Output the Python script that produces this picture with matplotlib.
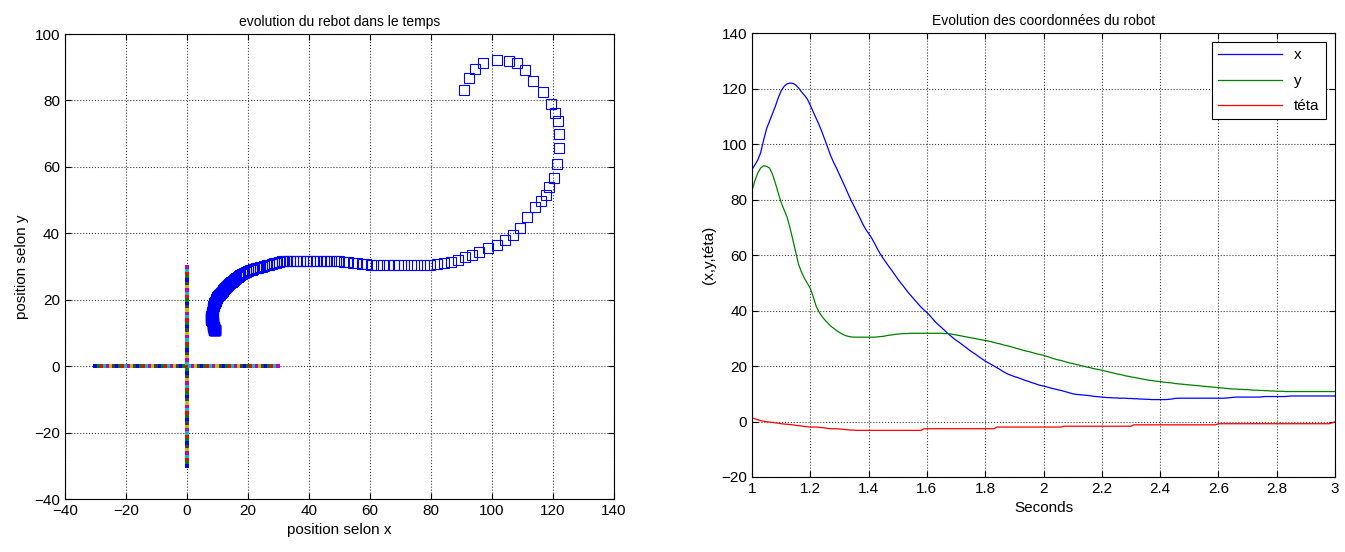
import matplotlib
matplotlib.use('Agg')
import matplotlib.pyplot as plt
import numpy as np

plt.rcParams['font.family'] = ['Liberation Sans', 'DejaVu Sans']
plt.rcParams['font.size'] = 10

# temps (s), pas de 0.01
t = np.linspace(1, 3, 201)

x_rob = [90.8, 92.5, 94.3, 97.0, 101.5, 105.5, 108.2, 110.8, 113.6, 116.6,
         119.2, 120.8, 121.7, 122.0, 121.9, 121.3, 120.2, 118.8, 117.6, 116.2,
         114.0, 111.6, 109.3, 107.0, 104.4, 101.6, 98.7, 95.8, 93.4, 91.3,
         89.0, 86.7, 84.4, 82.0, 79.7, 77.6, 75.5, 73.4, 71.2, 69.3,
         67.8, 66.2, 64.3, 62.3, 60.4, 58.8, 57.3, 55.8, 54.4, 52.9,
         51.4, 50.0, 48.7, 47.3, 46.0, 44.8, 43.6, 42.4, 41.2, 40.2,
         39.3, 38.2, 37.0, 35.8, 34.8, 33.9, 32.9, 31.9, 31.0, 30.1,
         29.3, 28.6, 27.8, 27.0, 26.2, 25.4, 24.7, 24.0, 23.2, 22.5,
         21.8, 21.2, 20.6, 20.0, 19.4, 18.8, 18.1, 17.5, 17.0, 16.6,
         16.2, 15.9, 15.5, 15.1, 14.7, 14.4, 14.0, 13.7, 13.3, 13.0,
         12.8, 12.5, 12.2, 11.9, 11.7, 11.4, 11.2, 10.9, 10.6, 10.3,
         10.0, 9.8, 9.7, 9.6, 9.5, 9.4, 9.3, 9.1, 9.0, 8.9,
         8.8, 8.7, 8.6, 8.6, 8.5, 8.5, 8.4, 8.4, 8.4, 8.3,
         8.3, 8.2, 8.2, 8.1, 8.1, 8.0, 8.0, 7.9, 7.9, 7.9,
         7.9, 7.9, 7.9, 8.0, 8.1, 8.3, 8.4, 8.4, 8.4, 8.4,
         8.4, 8.4, 8.4, 8.4, 8.4, 8.4, 8.4, 8.4, 8.4, 8.4,
         8.4, 8.4, 8.4, 8.5, 8.6, 8.7, 8.8, 8.8, 8.8, 8.8,
         8.8, 8.8, 8.8, 8.8, 8.8, 8.9, 9.0, 9.0, 9.0, 9.0,
         9.0, 9.0, 9.0, 9.0, 9.1, 9.2, 9.2, 9.2, 9.2, 9.2,
         9.2, 9.2, 9.2, 9.2, 9.2, 9.2, 9.2, 9.2, 9.2, 9.2,
         9.2]

y_rob = [83.2, 86.8, 89.6, 91.4, 92.2, 92.0, 91.4, 89.2, 86.0, 82.4,
         79.0, 76.3, 73.8, 70.0, 65.6, 61.0, 56.6, 53.8, 51.6, 49.8,
         48.0, 45.0, 41.6, 39.5, 37.9, 36.6, 35.5, 34.4, 33.6, 32.8,
         32.1, 31.5, 31.0, 30.7, 30.5, 30.4, 30.4, 30.4, 30.4, 30.4,
         30.4, 30.4, 30.4, 30.5, 30.6, 30.7, 30.9, 31.1, 31.2, 31.4,
         31.5, 31.6, 31.7, 31.7, 31.8, 31.8, 31.8, 31.8, 31.8, 31.8,
         31.8, 31.8, 31.8, 31.8, 31.8, 31.8, 31.7, 31.7, 31.6, 31.4,
         31.2, 31.0, 30.8, 30.6, 30.4, 30.2, 30.0, 29.8, 29.6, 29.4,
         29.2, 29.0, 28.8, 28.5, 28.2, 28.0, 27.7, 27.4, 27.2, 26.9,
         26.6, 26.3, 26.0, 25.7, 25.4, 25.2, 24.9, 24.6, 24.3, 24.1,
         23.9, 23.5, 23.2, 22.8, 22.5, 22.2, 22.0, 21.7, 21.4, 21.1,
         20.9, 20.6, 20.4, 20.1, 19.9, 19.6, 19.4, 19.1, 18.9, 18.7,
         18.5, 18.2, 18.0, 17.7, 17.5, 17.2, 17.0, 16.8, 16.5, 16.3,
         16.1, 15.9, 15.7, 15.5, 15.3, 15.1, 14.9, 14.8, 14.6, 14.5,
         14.4, 14.2, 14.1, 14.0, 13.9, 13.7, 13.6, 13.5, 13.4, 13.3,
         13.2, 13.1, 13.0, 12.9, 12.8, 12.7, 12.6, 12.5, 12.4, 12.3,
         12.2, 12.1, 12.0, 11.9, 11.8, 11.7, 11.7, 11.6, 11.6, 11.5,
         11.5, 11.4, 11.3, 11.3, 11.2, 11.2, 11.1, 11.1, 11.0, 11.0,
         10.9, 10.9, 10.9, 10.8, 10.8, 10.8, 10.8, 10.8, 10.8, 10.8,
         10.8, 10.8, 10.8, 10.8, 10.8, 10.8, 10.8, 10.8, 10.8, 10.8,
         10.8]

teta = [1.3, 1.0, 0.6, 0.3, 0.1, -0.1, -0.2, -0.3, -0.5, -0.6,
        -0.8, -0.9, -1.0, -1.1, -1.2, -1.4, -1.5, -1.6, -1.8, -1.9,
        -2.0, -2.0, -2.0, -2.1, -2.2, -2.3, -2.5, -2.6, -2.6, -2.6,
        -2.7, -2.8, -2.9, -3.0, -3.1, -3.1, -3.2, -3.2, -3.2, -3.2,
        -3.2, -3.2, -3.2, -3.2, -3.2, -3.2, -3.2, -3.2, -3.2, -3.2,
        -3.2, -3.2, -3.2, -3.2, -3.2, -3.2, -3.2, -3.2, -3.2, -2.6,
        -2.6, -2.6, -2.6, -2.6, -2.6, -2.6, -2.6, -2.6, -2.6, -2.6,
        -2.6, -2.6, -2.6, -2.6, -2.6, -2.6, -2.6, -2.6, -2.6, -2.6,
        -2.6, -2.6, -2.6, -2.6, -2.0, -2.0, -2.0, -2.0, -2.0, -2.0,
        -2.0, -2.0, -2.0, -2.0, -2.0, -2.0, -2.0, -2.0, -2.0, -2.0,
        -2.0, -2.0, -2.0, -2.0, -2.0, -2.0, -2.0, -1.7, -1.7, -1.7,
        -1.7, -1.7, -1.7, -1.7, -1.7, -1.7, -1.7, -1.7, -1.7, -1.7,
        -1.7, -1.7, -1.7, -1.7, -1.7, -1.7, -1.7, -1.7, -1.7, -1.7,
        -1.7, -1.2, -1.2, -1.2, -1.2, -1.2, -1.2, -1.2, -1.2, -1.2,
        -1.2, -1.2, -1.2, -1.2, -1.2, -1.2, -1.2, -1.2, -1.2, -1.2,
        -1.2, -1.2, -1.2, -1.2, -1.2, -1.2, -1.2, -1.2, -1.2, -1.2,
        -0.8, -0.8, -0.8, -0.8, -0.8, -0.8, -0.8, -0.8, -0.8, -0.8,
        -0.8, -0.8, -0.8, -0.8, -0.8, -0.8, -0.8, -0.8, -0.8, -0.8,
        -0.8, -0.8, -0.8, -0.8, -0.8, -0.8, -0.8, -0.8, -0.8, -0.8,
        -0.8, -0.8, -0.8, -0.8, -0.8, -0.8, -0.8, -0.8, -0.8, -0.5,
        -0.1]

# croix de reference (-30..30 sur chaque axe)
croix = list(range(-30, 31))
couleurs = ['b', 'g', 'r', 'c', 'm', 'y', (0.25, 0.25, 0.25)]

fig = plt.figure(figsize=(13.45, 5.52), dpi=100)

ax1 = fig.add_axes([0.0483, 0.096, 0.4082, 0.8424])
for i, v in enumerate(croix):
    c = couleurs[i % len(couleurs)]
    ax1.plot(v, 0, 's', color=c, ms=2.3, mew=0)
    ax1.plot(0, v, 's', color=c, ms=2.3, mew=0)
ax1.plot(x_rob, y_rob, 's', mfc='none', mec='b', ms=7, mew=0.8)
ax1.set_xlim(-40, 140)
ax1.set_ylim(-40, 100)
ax1.set_xticks(np.arange(-40, 141, 20))
ax1.set_yticks(np.arange(-40, 101, 20))
ax1.set_title('evolution du rebot dans le temps', fontsize=10)
ax1.set_xlabel('position selon x', fontsize=11)
ax1.set_ylabel('position selon y', fontsize=11)

ax2 = fig.add_axes([0.5591, 0.1359, 0.4335, 0.8041])
ax2.plot(t, x_rob, color='b', lw=0.9, label='x')
ax2.plot(t, y_rob, color='g', lw=0.9, label='y')
ax2.plot(t, teta, color='r', lw=0.9, label='téta')
ax2.set_xlim(1, 3)
ax2.set_ylim(-20, 140)
ax2.set_xticks(np.arange(1, 3.01, 0.2))
ax2.set_xticklabels(['1', '1.2', '1.4', '1.6', '1.8', '2', '2.2', '2.4', '2.6', '2.8', '3'])
ax2.set_yticks(np.arange(-20, 141, 20))
ax2.set_title('Evolution des coordonnées du robot', fontsize=10)
ax2.set_xlabel('Seconds', fontsize=11)
ax2.set_ylabel('(x,y,téta)', fontsize=11)
leg = ax2.legend(loc='upper right', fontsize=11, handlelength=4.2, fancybox=False,
                 framealpha=1, edgecolor='k', borderaxespad=0.6, labelspacing=0.75)
leg.get_frame().set_linewidth(0.8)

for ax in (ax1, ax2):
    ax.grid(True, color='0.25', linestyle=':', linewidth=0.8)
    ax.tick_params(direction='in', top=True, right=True, labelsize=11, length=4)
    for s in ax.spines.values():
        s.set_linewidth(0.8)

fig.savefig('out.png', dpi=100)
